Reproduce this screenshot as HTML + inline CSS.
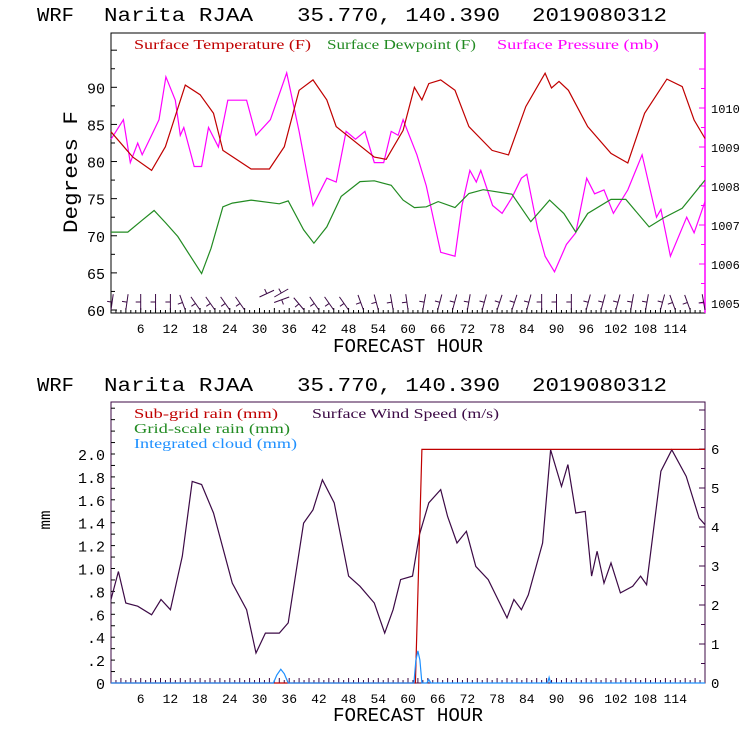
<!DOCTYPE html>
<html><head><meta charset="utf-8"><style>
body{margin:0;background:#fff}
svg{display:block}
text{font-family:"Liberation Mono",monospace}
.lg{font-family:"Liberation Serif",serif;font-size:14px}
</style></head><body>
<svg id="c" width="740" height="740" viewBox="0 0 740 740"></svg>
<script>
// ---- data ----
const tHours=[0,4.4,8.2,11,15,18,20.7,22.6,28.3,32,35,38,40.8,43.6,45.5,53.2,55.6,59,61.3,62.8,64.2,66.6,69.5,72.3,77,80.3,83.8,87.7,89,90.5,92.4,96.3,101,104.4,107.8,112.3,115.4,117.8,120];
const tempF=[84,80.6,78.8,82,90.3,89,86.5,81.5,79,79,82,89.6,91,88.3,84.7,80.6,80.3,84.2,90,88.3,90.5,91,89.6,84.7,81.5,80.9,87.4,91.9,89.9,90.8,89.6,84.7,81.1,79.8,86.5,91.1,90.1,85.6,83.1];
const dHours=[0,3.4,6.3,8.7,11.1,13.5,15.9,18.3,20.2,22.6,24.5,28.3,34,35.8,38.9,41,43.6,46.5,50.3,53.2,56.6,59,61.3,63.7,66.1,69.5,72.3,75.2,81,84.8,88.6,91.5,93.9,96.3,101,104,108.7,111.6,115.4,120];
const dewF=[70.5,70.5,72.1,73.4,71.7,69.9,67.4,64.9,68.3,73.9,74.4,74.8,74.3,74.7,70.8,69,71.2,75.3,77.3,77.4,76.8,74.8,73.8,73.9,74.6,73.8,75.7,76.2,75.6,71.9,74.8,73,70.5,73,74.9,74.9,71.2,72.4,73.7,77.5];
const pHours=[0,1,2.5,3.9,5.4,6.3,8.2,9.7,11.1,13,14,14.7,16.8,18.3,19.7,21.7,23.6,27.4,29.3,32.2,35.5,38,40.8,43.6,45.5,47.5,49.4,51.3,53.2,55.1,56.6,58,59,61.8,63.7,66.6,69.5,70.9,72.5,73.8,74.7,77.1,79,81,82.9,84,86.2,87.7,89.6,92,93.9,96.1,97.7,99.6,101.5,104.4,107.3,110.2,111.1,113,116.3,117.8,120];
const presMb=[1009.2,1009.4,1009.7,1008.6,1009.1,1008.8,1009.3,1009.7,1010.8,1010.2,1009.3,1009.5,1008.5,1008.5,1009.5,1009,1010.2,1010.2,1009.3,1009.7,1010.9,1009.4,1007.5,1008.2,1008.1,1009.4,1009.2,1009.4,1008.6,1008.6,1009.4,1009.3,1009.7,1008.8,1008,1006.3,1006.2,1007.5,1008.4,1008.1,1008.4,1007.5,1007.3,1007.7,1008.2,1008.3,1006.9,1006.2,1005.8,1006.5,1006.8,1008.2,1007.8,1007.9,1007.3,1007.9,1008.8,1007.2,1007.4,1006.2,1007.2,1006.8,1007.6];
const barbHours=[0,3,6,9,12,15,18,21,24,27,30,33,36,39,42,45,48,51,54,57,60,63,66,69,72,75,78,81,84,87,90,93,96,99,102,105,108,111,114,117,120];
const barbDir=[8,8,0,0,0,-20,-35,-35,-35,-35,65,60,-110,-40,-35,-35,-35,-20,-15,-10,-8,10,15,15,10,15,18,18,15,0,0,0,15,15,15,10,10,15,-20,-20,-10];
const wHours=[0,1.5,3,5.4,8.2,10.1,12,14.4,16.4,18.3,20.7,24.5,27.4,29.3,31.2,34,35.8,38.9,40.8,42.7,45.1,48,50.3,53.2,55.3,57,58.5,60.9,62.3,64.2,66.6,68,69.9,71.8,73.7,76.2,80,81.4,82.9,84.3,87.2,88.8,91,92.3,93.9,95.8,97.1,98.2,99.6,101,102.9,105.4,107,108.2,111.1,113.3,116.2,118.8,120];
const windMs=[2.14,2.86,2.05,1.97,1.75,2.14,1.88,3.25,5.17,5.09,4.36,2.56,1.88,0.77,1.28,1.28,1.54,4.1,4.44,5.21,4.62,2.74,2.48,2.05,1.28,1.88,2.65,2.74,3.8,4.62,4.96,4.27,3.59,3.89,2.99,2.65,1.67,2.14,1.88,2.26,3.59,5.98,5.04,5.6,4.36,4.4,2.74,3.38,2.56,3.08,2.31,2.48,2.74,2.52,5.43,5.98,5.3,4.23,4.06];
const rainHours=[0,61.5,62.8,120];
const rainMm=[0,0,2.04,2.04];
const cloudHours=[0,32.8,33.5,34.3,35,35.8,61.2,61.6,62,62.4,62.8,63.8,64.2,64.6,88.2,88.5,88.8,120];
const cloudMm=[0,0,0.07,0.12,0.08,0,0,0.2,0.28,0.2,0,0,0.03,0,0,0.05,0,0];
const xTicks=[6,12,18,24,30,36,42,48,54,60,66,72,78,84,90,96,102,108,114];
const tTicks=[60,65,70,75,80,85,90];
const pTicks=[1005,1006,1007,1008,1009,1010];
const mmTicks=[0,0.2,0.4,0.6,0.8,1.0,1.2,1.4,1.6,1.8,2.0];
const mmLabels=["0",".2",".4",".6",".8","1.0","1.2","1.4","1.6","1.8","2.0"];
const wTicks=[0,1,2,3,4,5,6];

// ---- scales ----
const X0=111,X1=705;
const x=h=>X0+(X1-X0)*h/120;
const yT=v=>310-(v-60)*(310-87.3)/30;
const yP=v=>303-(v-1005)*39;
const yMm=v=>683-v*(683-454)/2;
const yW=v=>683-v*(683-449)/6;

const NS="http://www.w3.org/2000/svg";
const svg=document.getElementById('c');
function el(tag,attrs,parent,txt){const e=document.createElementNS(NS,tag);for(const k in attrs)e.setAttribute(k,attrs[k]);if(txt!==undefined)e.textContent=txt;(parent||svg).appendChild(e);return e;}
function poly(hs,vs,ys,color,name,g){const pts=hs.map((h,i)=>x(h).toFixed(1)+","+ys(vs[i]).toFixed(1)).join(" ");const p=el('polyline',{points:pts,fill:'none',stroke:color,'stroke-width':1.2},g);return p;}

function title(y,name){const g=el('g',{});
 [['WRF',37,37],['Narita RJAA',104,149],['35.770, 140.390',297,203],['2019080312',532,135]].forEach(p=>{el('text',{x:p[1],y:y,'font-size':19,textLength:p[2],lengthAdjust:'spacingAndGlyphs',fill:'#000'},g,p[0]);});}

// ===== top chart =====
const g1=el('g',{});


title(21,'top-title');
let f=el('rect',{x:X0,y:33,width:X1-X0,height:280,fill:'none',stroke:'#000','stroke-width':1},g1);

el('line',{x1:X1,y1:33,x2:X1,y2:313,stroke:'#f0f','stroke-width':1.5},g1);
for(let v=60;v<=97.5;v+=2.5){const y=yT(v);if(y<34)continue;el('line',{x1:X0,y1:y,x2:X0+(v%5==0?6:4),y2:y,stroke:'#000'},g1);}
tTicks.forEach(v=>{const t=el('text',{x:105,y:yT(v)+6,'font-size':15,'text-anchor':'end'},g1,String(v));});
for(let v=1005;v<=1011;v+=0.5){const y=yP(v);el('line',{x1:X1,y1:y,x2:X1-(v%1==0?6:4),y2:y,stroke:'#f0f'},g1);}
pTicks.forEach(v=>{const t=el('text',{x:711,y:yP(v)+5,'font-size':12,fill:'#000'},g1,String(v));});
for(let h=1;h<120;h++)el('line',{x1:x(h),y1:313,x2:x(h),y2:h%3==0?308:310,stroke:'#000'},g1);
xTicks.forEach(h=>{const t=el('text',{x:x(h),y:333,'font-size':13,'text-anchor':'middle'},g1,String(h));});
let a=el('text',{x:408,y:352,'font-size':19,'text-anchor':'middle',textLength:150,lengthAdjust:'spacingAndGlyphs'},g1,'FORECAST HOUR');

a=el('text',{x:0,y:0,'font-size':20,'text-anchor':'middle',transform:'translate(77,172) rotate(-90)',textLength:122,lengthAdjust:'spacingAndGlyphs'},g1,'Degrees F');

[['Surface Temperature (F)',134,177,'#c00000','legend-temperature'],['Surface Dewpoint (F)',327,149,'#228b22','legend-dewpoint'],['Surface Pressure (mb)',497,162,'#ff00ff','legend-pressure']].forEach(l=>{const t=el('text',{x:l[1],y:49,'class':'lg',fill:l[3],textLength:l[2],lengthAdjust:'spacingAndGlyphs'},g1,l[0]);});
poly(pHours,presMb,yP,'#ff00ff','pressure-line',g1);
poly(dHours,dewF,yT,'#228b22','dewpoint-line',g1);
poly(tHours,tempF,yT,'#c00000','temperature-line',g1);
barbHours.forEach((h,i)=>{const r=barbDir[i]*Math.PI/180,L=16,bx=x(h),by=(h>=30&&h<=36)?297:310;const ex=bx+L*Math.sin(r),ey=by-L*Math.cos(r);
 const b=el('g',{},g1);
 el('line',{x1:bx,y1:by,x2:ex,y2:ey,stroke:'#3c0a46','stroke-width':1},b);
 const mx=bx+0.5*L*Math.sin(r),my=by-0.5*L*Math.cos(r);
 el('line',{x1:mx,y1:my,x2:mx-5*Math.cos(r),y2:my-5*Math.sin(r),stroke:'#3c0a46','stroke-width':1},b);});

// ===== bottom chart =====
const g2=el('g',{});


title(391,'bottom-title');
f=el('rect',{x:X0,y:402,width:X1-X0,height:281,fill:'none',stroke:'#3c0a46','stroke-width':1},g2);

for(let v=0;v<=2.6;v+=0.1){const y=yMm(v);if(y<404)continue;el('line',{x1:X0,y1:y,x2:X0+4,y2:y,stroke:'#000'},g2);}
mmTicks.forEach((v,i)=>{const t=el('text',{x:105,y:yMm(v)+6,'font-size':15,'text-anchor':'end'},g2,mmLabels[i]);});
for(let v=0;v<=7;v+=0.5){const y=yW(v);if(y<404)continue;el('line',{x1:X1,y1:y,x2:X1-(v%1==0?6:4),y2:y,stroke:'#3c0a46'},g2);}
wTicks.forEach(v=>{const t=el('text',{x:711,y:yW(v)+5,'font-size':14},g2,String(v));});
for(let h=1;h<120;h++)el('line',{x1:x(h),y1:683,x2:x(h),y2:h%2==0?678:680,stroke:'#3c0a46'},g2);
xTicks.forEach(h=>{const t=el('text',{x:x(h),y:703,'font-size':13,'text-anchor':'middle'},g2,String(h));});
a=el('text',{x:408,y:721,'font-size':19,'text-anchor':'middle',textLength:150,lengthAdjust:'spacingAndGlyphs'},g2,'FORECAST HOUR');

a=el('text',{x:0,y:0,'font-size':16,'text-anchor':'middle',transform:'translate(50,520) rotate(-90)'},g2,'mm');

[['Sub-grid rain (mm)',134,414,144,'#c00000','legend-subgrid-rain'],['Surface Wind Speed (m/s)',312,414,187,'#3c0a46','legend-wind-speed'],['Grid-scale rain (mm)',134,429,156,'#228b22','legend-grid-rain'],['Integrated cloud (mm)',134,444,163,'#1e90ff','legend-cloud']].forEach(l=>{const t=el('text',{x:l[1],y:l[2]+4,'class':'lg',fill:l[4],textLength:l[3],lengthAdjust:'spacingAndGlyphs'},g2,l[0]);});
poly(wHours,windMs,yW,'#3c0a46','wind-speed-line',g2);
poly(rainHours,rainMm,yMm,'#c00000','subgrid-rain-line',g2);
poly(cloudHours,cloudMm,yMm,'#1e90ff','cloud-line',g2);
</script>
</body></html>
